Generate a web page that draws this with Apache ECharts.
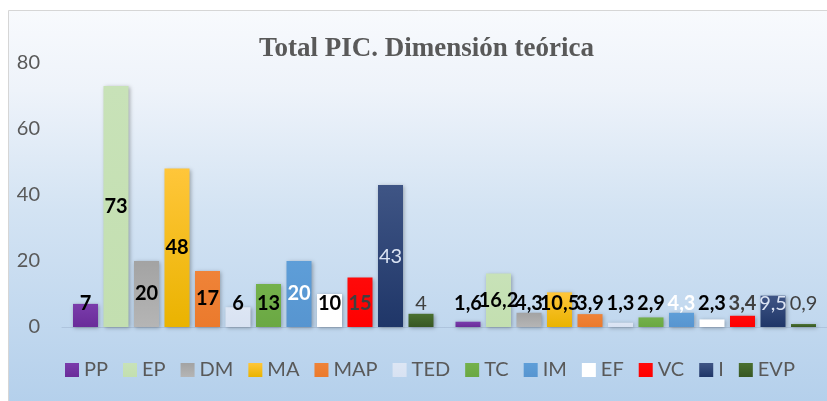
<!DOCTYPE html>
<html>
<head>
<meta charset="utf-8">
<script src="https://cdn.jsdelivr.net/npm/echarts@6/dist/echarts.min.js"></script>
<style>
  html, body { margin: 0; padding: 0; background: #fff; }
  #chart { width: 827px; height: 401px; }
</style>
</head>
<body>
<div id="chart"></div>
<script>
// dos grupos sin etiqueta en el eje x
var categorias = ['', ''];
var series_nombres = ['PP', 'EP', 'DM', 'MA', 'MAP', 'TED', 'TC', 'IM', 'EF', 'VC', 'I', 'EVP'];
var grupo1 = [7, 73, 20, 48, 17, 6, 13, 20, 10, 15, 43, 4];
var grupo2 = [1.6, 16.2, 4.3, 10.5, 3.9, 1.3, 2.9, 4.3, 2.3, 3.4, 9.5, 0.9];
var ticks_y = [0, 20, 40, 60, 80];

// colores de barra (arriba, abajo) y de etiqueta
var colores = [
    ['#7a3cab', '#6a2c99'],
    ['#c8e2b8', '#c3dfb0'],
    ['#a3a3a3', '#b5b5b5'],
    ['#ffc63a', '#eab300'],
    ['#ef8338', '#eb7a2c'],
    ['#dde6f4', '#d8e2f2'],
    ['#74b14b', '#6aa843'],
    ['#5e9ed8', '#5795d0'],
    ['#ffffff', '#ffffff'],
    ['#ff0a0a', '#ff0000'],
    ['#3f5585', '#1f3668'],
    ['#4a7030', '#385723']
];
var etiq_color = ['#000', '#000', '#000', '#000', '#000', '#000', '#000', '#fff', '#000', '#404040', '#dae3f3', '#404040'];
var etiq_peso = ['bold', 'bold', 'bold', 'bold', 'bold', 'bold', 'bold', 'bold', 'bold', 'bold', 'normal', 'normal'];

function coma(v) {
    return String(v).replace('.', ',');
}

var series = [];
for (var i = 0; i < series_nombres.length; i++) {
    var datos = [grupo1[i], grupo2[i]].map(function (v) {
        var alta = v * 3.3 > 50;
        return {
            value: v,
            label: alta ? { position: 'inside' } : { position: 'insideBottom', distance: 13 }
        };
    });
    series.push({
        name: series_nombres[i],
        type: 'bar',
        barWidth: 25,
        barGap: '22%',
        data: datos,
        itemStyle: {
            color: new echarts.graphic.LinearGradient(0, 0, 0, 1, [
                { offset: 0, color: colores[i][0] },
                { offset: 1, color: colores[i][1] }
            ]),
            shadowBlur: 4,
            shadowOffsetX: 1,
            shadowOffsetY: 1,
            shadowColor: 'rgba(0,0,0,0.3)'
        },
        label: {
            show: true,
            formatter: function (p) { return coma(p.value); },
            fontFamily: 'Lato',
            fontSize: 20,
            fontWeight: etiq_peso[i],
            color: etiq_color[i]
        }
    });
}

var myChart = echarts.init(document.getElementById('chart'));

var option = {
    backgroundColor: '#fff',
    animation: false,
    graphic: [{
        type: 'rect',
        z: -10,
        shape: { x: 8.5, y: 10.5, width: 830, height: 400 },
        style: {
            fill: new echarts.graphic.LinearGradient(0, 0, 0, 1, [
                { offset: 0, color: '#f8fafd' },
                { offset: 0.2, color: '#eef3fa' },
                { offset: 0.5, color: '#d3e3f3' },
                { offset: 1, color: '#b3cfeb' }
            ]),
            stroke: '#d6d6d6',
            lineWidth: 1
        }
    }],
    title: {
        text: 'Total PIC. Dimensión teórica',
        left: 254,
        top: 31,
        textStyle: {
            fontFamily: 'Liberation Serif',
            fontSize: 27,
            fontWeight: 'bold',
            color: '#595959'
        }
    },
    legend: {
        data: series_nombres,
        left: 60,
        top: 355,
        itemWidth: 14,
        itemHeight: 14,
        itemGap: 15,
        icon: 'rect',
        textStyle: {
            fontFamily: 'Lato',
            fontSize: 20,
            color: '#595959'
        }
    },
    grid: {
        left: 62,
        top: 63,
        width: 772,
        height: 264
    },
    xAxis: {
        type: 'category',
        data: categorias,
        axisLine: { show: true, lineStyle: { color: 'rgba(120,140,170,0.25)' } },
        axisTick: { show: false },
        axisLabel: { show: false }
    },
    yAxis: {
        type: 'value',
        min: ticks_y[0],
        max: ticks_y[ticks_y.length - 1],
        interval: 20,
        splitLine: { show: false },
        axisLine: { show: false },
        axisTick: { show: false },
        axisLabel: {
            margin: 22,
            fontFamily: 'Lato',
            fontSize: 20,
            color: '#595959'
        }
    },
    series: series
};

myChart.setOption(option);
</script>
</body>
</html>
